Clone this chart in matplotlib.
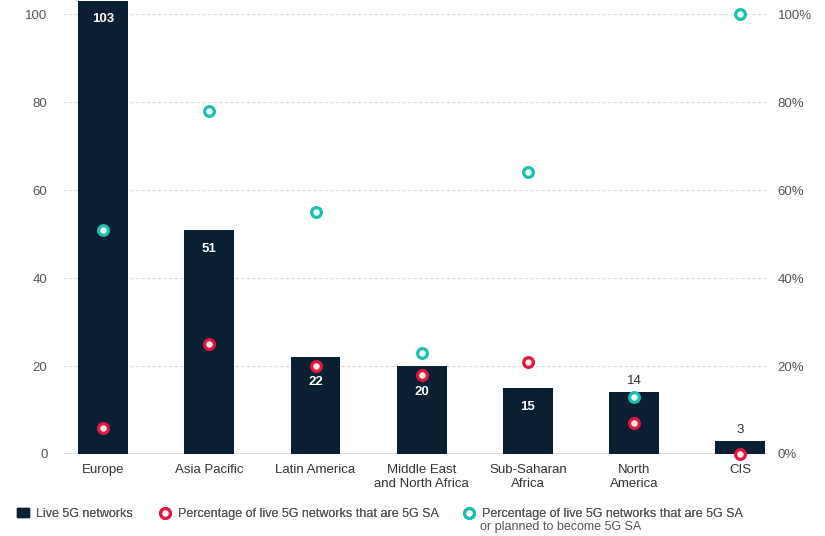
import matplotlib
matplotlib.use('Agg')
import numpy as np
from matplotlib import pyplot as plt
from matplotlib.lines import Line2D
from matplotlib.patches import Patch

plt.rcParams['font.family'] = ['Liberation Sans', 'DejaVu Sans']

regions = ['Europe', 'Asia Pacific', 'Latin America', 'Middle East\nand North Africa',
           'Sub-Saharan\nAfrica', 'North\nAmerica', 'CIS']
live_5g = [103, 51, 22, 20, 15, 14, 3]
pct_sa = [6, 25, 20, 18, 21, 7, 0]
pct_sa_planned = [51, 78, 55, 23, 64, 13, 100]

bar_color = '#0b1f33'
red = '#e5173f'
teal = '#1bbfae'
grid_color = '#d9d9d9'
label_color = '#555555'

# label offsets in points (negative = inside bar)
label_offsets = [-13, -14, -18, -19, -14, 8, 8]

x = np.arange(len(regions))
ymax = 103.2

fig = plt.figure(figsize=(8.25, 5.36), dpi=100)
ax = fig.add_axes([0.076, 0.153, 0.855, 0.847])
ax.bar(x, live_5g, 0.47, color=bar_color, zorder=2)
ax.set_ylim(0, ymax)
ax.set_xlim(-0.38, 6.26)
ax.set_yticks([0, 20, 40, 60, 80, 100])
ax.set_xticks(x, regions)
ax.grid(True, axis='y', ls=(0, (3, 2)), color=grid_color, lw=0.8, zorder=0)
ax.axhline(0, color=grid_color, lw=1.2, zorder=1)
for s in ax.spines.values():
    s.set_visible(False)
ax.tick_params(axis='both', length=0, colors=label_color, labelsize=9.5)
ax.tick_params(axis='x', labelcolor='#333333', pad=7)
ax.tick_params(axis='y', pad=11)

# value labels
for xi, v, off in zip(x, live_5g, label_offsets):
    top = min(v, ymax)
    if off < 0:
        ax.annotate(str(v), (xi, top), xytext=(0, off), textcoords='offset points',
                    ha='center', va='center', color='white', fontsize=9.5, fontweight='bold', zorder=4)
    else:
        ax.annotate(str(v), (xi, top), xytext=(0, off), textcoords='offset points',
                    ha='center', va='center', color='#333333', fontsize=9.5, zorder=4)

ax2 = ax.twinx()
ax2.set_ylim(0, ymax)
ax2.set_yticks([0, 20, 40, 60, 80, 100], ['0%', '20%', '40%', '60%', '80%', '100%'])
for s in ax2.spines.values():
    s.set_visible(False)
ax2.tick_params(axis='y', length=0, colors=label_color, labelsize=9.5, pad=7)
ax2.plot(x, pct_sa_planned, 'o', ms=7, mfc='#e8fffb', mec=teal, mew=2.3, ls='none', zorder=5)
ax2.plot(x, pct_sa, 'o', ms=7, mfc='#ffe8ec', mec=red, mew=2.3, ls='none', zorder=5, clip_on=False)

handles = [
    Patch(color=bar_color, label='Live 5G networks'),
    Line2D([], [], marker='o', ls='none', ms=7, mfc='white', mec=red, mew=2.3,
           label='Percentage of live 5G networks that are 5G SA'),
    Line2D([], [], marker='o', ls='none', ms=7, mfc='white', mec=teal, mew=2.3,
           label='Percentage of live 5G networks that are 5G SA'),
]
anchors = [0.021, 0.193, 0.562]
for h, xa in zip(handles, anchors):
    leg = fig.legend(handles=[h], loc='upper left', bbox_to_anchor=(xa, 0.052),
                     frameon=False, fontsize=9, labelcolor=label_color, handlelength=0.9,
                     handletextpad=0.6, borderaxespad=0, borderpad=0)
    fig.add_artist(leg)
fig.text(0.582, 0.006, 'or planned to become 5G SA', fontsize=9, color=label_color,
         ha='left', va='bottom')

fig.savefig('out.png', dpi=100)
